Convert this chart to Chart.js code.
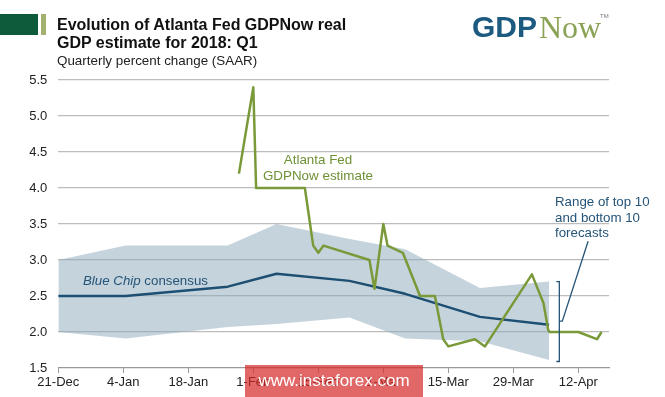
<!DOCTYPE html>
<html lang="en">

<head>
    <meta charset="UTF-8">
    <script src="https://cdn.jsdelivr.net/npm/chart.js@4"></script>
    <title>GDPNow 2018 Q1</title>
    <style>
        body { margin: 0; width: 665px; height: 397px; overflow: hidden; background: #fff; position: relative;
               font-family: "Liberation Sans", Arial, sans-serif; }
        #myChart { position: absolute; left: 0; top: 0; }
        .t { position: absolute; white-space: nowrap; line-height: 1; }
    </style>
</head>

<body>
    <canvas id="myChart" width="665" height="397"></canvas>

    <div style="position:absolute;left:0;top:14px;width:38px;height:21px;background:#0d5b3b"></div>
    <div style="position:absolute;left:41px;top:14px;width:5px;height:21px;background:#a3b16e"></div>
    <div class="t" style="left:57px;top:17px;font-size:16px;font-weight:bold;color:#111">Evolution of Atlanta Fed GDPNow real</div>
    <div class="t" style="left:57px;top:35px;font-size:16px;font-weight:bold;color:#111">GDP estimate for 2018: Q1</div>
    <div class="t" style="left:57px;top:54px;font-size:13.4px;color:#222">Quarterly percent change (SAAR)</div>

    <div class="t" style="left:472px;top:12px;font-size:30px;font-weight:bold;color:#1d5a80">GDP</div>
    <div class="t" style="left:539px;top:10.5px;font-size:32px;font-family:'Liberation Serif',serif;color:#8aa254">Now</div>
    <div class="t" style="left:600px;top:13px;font-size:6px;color:#777">TM</div>

    <div class="t" style="left:258px;top:152px;width:120px;text-align:center;line-height:16px;font-size:13.4px;color:#6f9136">Atlanta Fed<br>GDPNow estimate</div>
    <div class="t" style="left:83px;top:274px;font-size:13.3px;color:#245478"><i>Blue Chip</i> consensus</div>
    <div class="t" style="left:555px;top:194px;line-height:15.5px;font-size:13.3px;color:#245478">Range of top 10<br>and bottom 10<br>forecasts</div>

    <div class="t" style="left:245px;top:365px;width:178px;height:32px;line-height:32px;text-align:center;font-size:17px;color:#fff;background:rgba(214,40,40,0.7)">www.instaforex.com</div>

<script type='text/javascript'>

    // x values are days since 21-Dec-2017
    const tickDays = [0, 14, 28, 42, 56, 70, 84, 98, 112]
    const tickLabels = ['21-Dec', '4-Jan', '18-Jan', '1-Feb', '15-Feb', '1-Mar', '15-Mar', '29-Mar', '12-Apr']

    const gdpDays = [38.9, 42.0, 42.6, 53.1, 54.9, 56.0, 57.1, 67.0, 68.1, 70.0, 70.9, 74.2, 77.9, 81.1, 82.9, 84.0, 89.7, 91.9, 102.0, 104.5, 105.5, 105.8, 112.0, 116.0, 117.0]
    const gdpNow = [4.2, 5.4, 4.0, 4.0, 3.2, 3.1, 3.2, 3.0, 2.6, 3.5, 3.2, 3.1, 2.5, 2.5, 1.9, 1.8, 1.9, 1.8, 2.8, 2.4, 2.03, 2.0, 2.0, 1.9, 2.0]

    const chipDays = [0, 14.5, 36.5, 47, 62.7, 74.7, 90.8, 105.7]
    const chipMean = [2.5, 2.5, 2.63, 2.81, 2.71, 2.53, 2.21, 2.10]
    const rangeTop = [3.0, 3.2, 3.2, 3.5, 3.29, 3.15, 2.61, 2.70]
    const rangeBottom = [2.0, 1.91, 2.07, 2.11, 2.2, 1.91, 1.87, 1.61]

    const yTicks = [1.5, 2.0, 2.5, 3.0, 3.5, 4.0, 4.5, 5.0, 5.5]

    const pts = (xs, ys) => xs.map((d, i) => ({ x: d, y: ys[i] }))

    // bracket + leader line for the forecast range note
    const bracket = {
        id: 'bracket',
        afterDatasetsDraw(chart) {
            const { ctx, scales: { x, y } } = chart
            const bx = x.getPixelForValue(107.9)
            const top = y.getPixelForValue(2.7)
            const bot = y.getPixelForValue(1.59)
            const mid = y.getPixelForValue(2.15)
            ctx.save()
            ctx.strokeStyle = '#245478'
            ctx.lineWidth = 1.3
            ctx.beginPath()
            ctx.moveTo(bx - 3, top); ctx.lineTo(bx, top); ctx.lineTo(bx, bot); ctx.lineTo(bx - 3, bot)
            ctx.moveTo(bx, mid); ctx.lineTo(bx + 3, mid)
            ctx.lineTo(x.getPixelForValue(114.1), y.getPixelForValue(3.26))
            ctx.stroke()
            ctx.restore()
        }
    }

    Chart.defaults.font.family = '"Liberation Sans", Arial, sans-serif'

    var ctx = document.getElementById('myChart').getContext('2d');
    var chart = new Chart(ctx, {
        type: 'line',
        data: {
            datasets: [{
                label: 'Atlanta Fed GDPNow estimate',
                data: pts(gdpDays, gdpNow),
                borderColor: '#7a9a3a',
                borderWidth: 2.5,
                borderJoinStyle: 'round',
                order: 0
            }, {
                label: 'Blue Chip consensus',
                data: pts(chipDays, chipMean),
                borderColor: '#1d4f73',
                borderWidth: 2.5,
                borderJoinStyle: 'round',
                order: 1
            }, {
                label: 'Top 10 average',
                data: pts(chipDays, rangeTop),
                borderWidth: 0,
                borderColor: 'rgba(0,0,0,0)',
                backgroundColor: 'rgba(139,167,185,0.5)',
                fill: '+1',
                order: 2
            }, {
                label: 'Bottom 10 average',
                data: pts(chipDays, rangeBottom),
                borderWidth: 0,
                borderColor: 'rgba(0,0,0,0)',
                fill: false,
                order: 3
            }]
        },
        options: {
            responsive: false,
            animation: false,
            layout: { padding: { top: 80, right: 56, left: 0, bottom: 0 } },
            plugins: { legend: { display: false }, tooltip: { enabled: false } },
            elements: { point: { radius: 0 }, line: { tension: 0 } },
            scales: {
                x: {
                    type: 'linear',
                    min: 0,
                    max: 118.6,
                    afterBuildTicks: s => { s.ticks = tickDays.map(v => ({ value: v })) },
                    afterFit: s => { s.height = 29 },
                    ticks: {
                        callback: v => tickLabels[tickDays.indexOf(v)],
                        color: '#222',
                        font: { size: 13 },
                        padding: 2,
                        maxRotation: 0,
                        autoSkip: false
                    },
                    grid: { drawOnChartArea: false, tickLength: 5, color: '#999' },
                    border: { color: '#999', width: 1.2 }
                },
                y: {
                    min: 1.5,
                    max: 5.5,
                    afterBuildTicks: s => { s.ticks = yTicks.map(v => ({ value: v })) },
                    afterFit: s => { s.width = 58.3 },
                    ticks: {
                        callback: v => v.toFixed(1),
                        color: '#222',
                        font: { size: 13 },
                        padding: 11
                    },
                    grid: {
                        color: c => c.tick && c.tick.value === 1.5 ? 'rgba(0,0,0,0)' : '#bcbcbc',
                        lineWidth: 1.2,
                        drawTicks: false
                    },
                    border: { display: false }
                }
            }
        },
        plugins: [bracket]
    });

</script>
</body>

</html>
